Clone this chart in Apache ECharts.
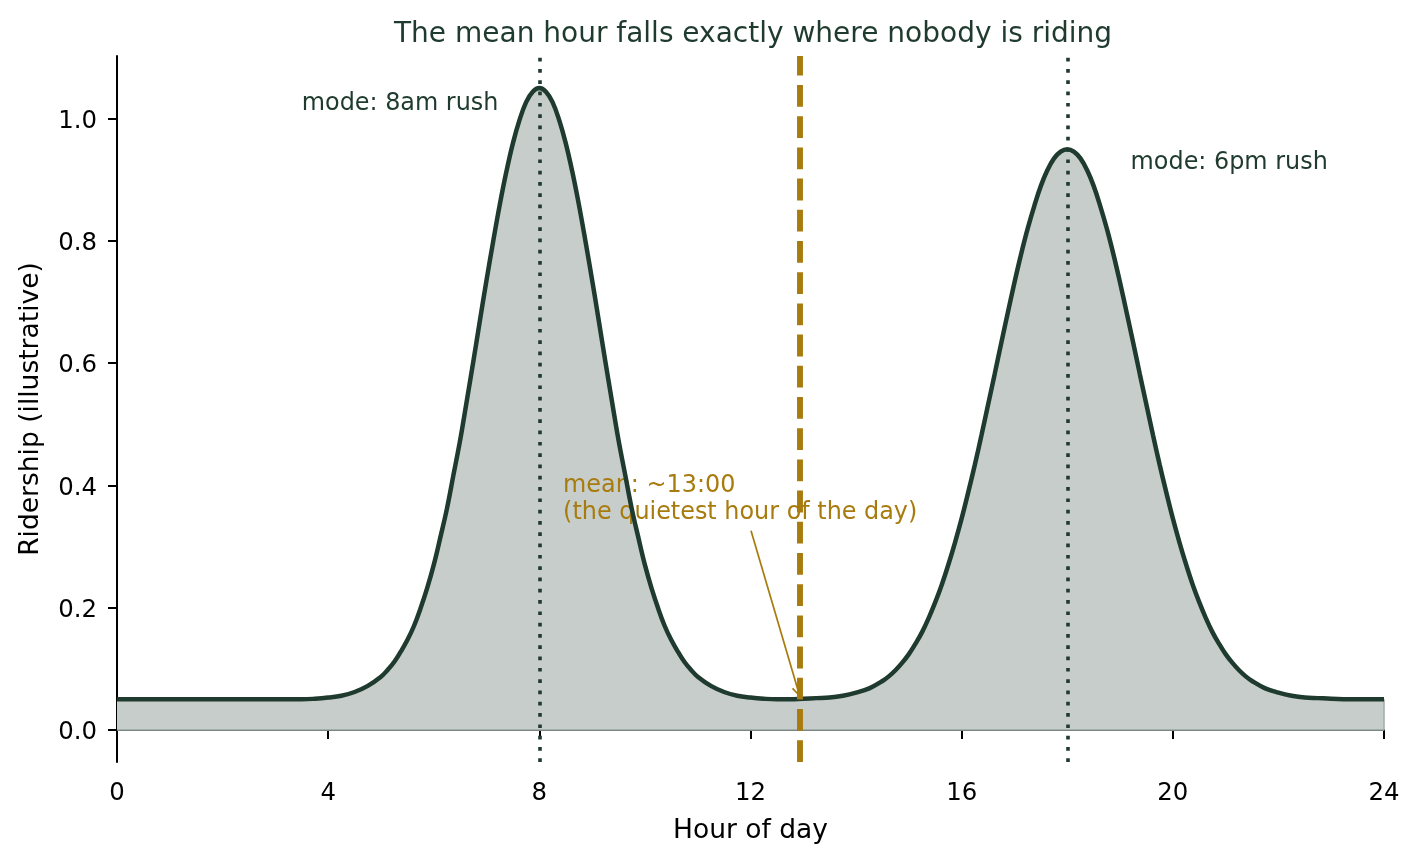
<!DOCTYPE html>
<html>
<head>
<meta charset="utf-8">
<title>Mean hour vs ridership</title>
<script src="https://cdn.jsdelivr.net/npm/echarts@6/dist/echarts.min.js"></script>
<style>
html, body { margin: 0; padding: 0; background: #fff; }
#main { width: 1420px; height: 863px; }
</style>
</head>
<body>
<div id="main"></div>
<script>
// values (hour of day -> ridership), denser around the two peaks
var hours = [0, 1, 2, 3, 3.5, 3.75, 4, 4.25, 4.5, 4.75,
	5, 5.125, 5.25, 5.375, 5.5, 5.625, 5.75, 5.875, 6, 6.125, 6.25, 6.375, 6.5, 6.625, 6.75, 6.875,
	7, 7.125, 7.25, 7.375, 7.5, 7.625, 7.75, 7.875, 8, 8.125, 8.25, 8.375, 8.5, 8.625, 8.75, 8.875,
	9, 9.125, 9.25, 9.375, 9.5, 9.625, 9.75, 9.875, 10, 10.125, 10.25, 10.375, 10.5, 10.625, 10.75, 10.875, 11,
	11.25, 11.5, 11.75, 12, 12.25, 12.5, 12.75, 13, 13.25, 13.5, 13.75, 14, 14.25,
	14.5, 14.625, 14.75, 14.875, 15, 15.125, 15.25, 15.375, 15.5, 15.625, 15.75, 15.875,
	16, 16.125, 16.25, 16.375, 16.5, 16.625, 16.75, 16.875, 17, 17.125, 17.25, 17.375, 17.5, 17.625, 17.75, 17.875,
	18, 18.125, 18.25, 18.375, 18.5, 18.625, 18.75, 18.875, 19, 19.125, 19.25, 19.375, 19.5, 19.625, 19.75, 19.875,
	20, 20.125, 20.25, 20.375, 20.5, 20.625, 20.75, 20.875, 21, 21.125, 21.25, 21.375, 21.5,
	21.75, 22, 22.25, 22.5, 22.75, 23, 23.5, 24];
var ridership = [0.05, 0.05, 0.05, 0.05, 0.050, 0.051, 0.053, 0.056, 0.062, 0.072,
	0.087, 0.098, 0.111, 0.128, 0.147, 0.170, 0.199, 0.232, 0.270, 0.315, 0.362, 0.418, 0.474, 0.538, 0.603, 0.670,
	0.736, 0.799, 0.859, 0.913, 0.960, 0.998, 1.027, 1.044, 1.050, 1.044, 1.027, 0.998, 0.960, 0.913, 0.859, 0.799,
	0.736, 0.670, 0.603, 0.538, 0.474, 0.418, 0.362, 0.315, 0.270, 0.232, 0.199, 0.170, 0.147, 0.128, 0.111, 0.098, 0.087,
	0.072, 0.062, 0.056, 0.053, 0.051, 0.050, 0.050, 0.051, 0.052, 0.053, 0.056, 0.061, 0.068,
	0.080, 0.088, 0.098, 0.110, 0.124, 0.141, 0.160, 0.183, 0.209, 0.238, 0.271, 0.307,
	0.346, 0.389, 0.434, 0.482, 0.532, 0.582, 0.633, 0.683, 0.732, 0.778, 0.820, 0.857, 0.890, 0.916, 0.935, 0.946,
	0.950, 0.946, 0.935, 0.916, 0.890, 0.857, 0.820, 0.778, 0.732, 0.683, 0.633, 0.582, 0.532, 0.482, 0.434, 0.389,
	0.346, 0.307, 0.271, 0.238, 0.209, 0.183, 0.160, 0.141, 0.124, 0.110, 0.098, 0.088, 0.080,
	0.068, 0.061, 0.056, 0.053, 0.052, 0.051, 0.050, 0.050];
var modeHours = [8, 18];
var meanHour = 12.94;
var yTicks = [0, 0.2, 0.4, 0.6, 0.8, 1.0];
var notes = [
	{ text: 'mode: 8am rush', x: 3.5, y: 1.025, kind: 'mode' },
	{ text: 'mode: 6pm rush', x: 19.2, y: 0.927, kind: 'mode' },
	{ text: 'mean: ~13:00\n(the quietest hour of the day)', x: 8.45, y: 0.378, kind: 'mean' }
];
var arrowFrom = [12.01, 0.326];
var arrowTo = [12.91, 0.062];

var dark = '#1f3a2e';
var gold = '#a87b0e';
var font = 'DejaVu Sans';
// open "->" head, drawn as a thin chevron
var openHead = 'path://M0,10 L5,0 L10,10 L8.6,10.6 L5,3 L1.4,10.6 Z';

var curve = [];
for (var i = 0; i < hours.length; i++) {
	curve.push([hours[i], ridership[i]]);
}
var last = hours.length - 1;
// outline of the filled band along y = 0 and its right end
var fillEdge = [[hours[0], 0], [hours[last], 0], [hours[last], ridership[last]]];

var myChart = echarts.init(document.getElementById('main'));

var option = {
	animation: false,
	textStyle: { fontFamily: font },
	title: {
		text: 'The mean hour falls exactly where nobody is riding',
		left: 748,
		top: 16,
		textAlign: 'center',
		textStyle: { color: dark, fontSize: 28, fontWeight: 'normal', fontFamily: font }
	},
	grid: { left: 117, right: 36, top: 56, bottom: 101 },
	xAxis: {
		type: 'value',
		min: 0,
		max: 24,
		interval: 4,
		name: 'Hour of day',
		nameLocation: 'middle',
		nameGap: 56,
		nameTextStyle: { color: '#000', fontSize: 26.5, fontFamily: font },
		axisLine: { lineStyle: { color: '#000', width: 2 } },
		axisTick: { length: 9, lineStyle: { color: '#000', width: 2 } },
		axisLabel: { color: '#000', fontSize: 24.4, margin: 20, fontFamily: font },
		splitLine: { show: false }
	},
	yAxis: {
		type: 'value',
		min: -0.0525,
		max: 1.1025,
		name: 'Ridership (illustrative)',
		nameLocation: 'middle',
		nameGap: 72,
		nameTextStyle: { color: '#000', fontSize: 26.5, fontFamily: font },
		axisLine: { show: true, lineStyle: { color: '#000', width: 2 } },
		axisTick: { show: true, length: 9, customValues: yTicks, lineStyle: { color: '#000', width: 2 } },
		axisLabel: {
			color: '#000', fontSize: 24.4, margin: 20, fontFamily: font,
			verticalAlign: 'top',
			lineHeight: 5.6,
			customValues: yTicks,
			formatter: function(v) { return v.toFixed(1); }
		},
		splitLine: { show: false }
	},
	series: [
		{
			type: 'line',
			name: 'fill',
			data: curve,
			smooth: 0.4,
			showSymbol: false,
			silent: true,
			lineStyle: { width: 0 },
			areaStyle: { color: '#c7cdca', opacity: 1, origin: 0 },
			z: 1
		},
		{
			type: 'line',
			name: 'fillEdge',
			data: fillEdge,
			showSymbol: false,
			silent: true,
			lineStyle: { color: '#a3b0ab', width: 1.6 },
			z: 1
		},
		{
			type: 'scatter',
			name: 'notes',
			symbolSize: 0,
			silent: true,
			itemStyle: { opacity: 1 },
			z: 2,
			data: notes.map(function(n) {
				return {
					value: [n.x, n.y],
					label: {
						show: true,
						position: 'right',
						distance: 0,
						formatter: n.text,
						fontSize: 23.9,
						lineHeight: 27,
						fontFamily: font,
						color: n.kind === 'mean' ? gold : dark
					}
				};
			})
		},
		{
			type: 'line',
			name: 'ridership',
			data: curve,
			smooth: 0.4,
			showSymbol: false,
			lineStyle: { color: dark, width: 4.5 },
			z: 3,
			markLine: {
				silent: true,
				symbol: ['none', 'none'],
				label: { show: false },
				data: [
					{ xAxis: modeHours[0], lineStyle: { color: dark, width: 3.6, type: [3.7, 7.6] } },
					{ xAxis: modeHours[1], lineStyle: { color: dark, width: 3.6, type: [3.7, 7.6] } },
					{ xAxis: meanHour, lineStyle: { color: gold, width: 5.9, type: [21.8, 9.4] } },
					[
						{ coord: arrowFrom, symbol: 'none' },
						{ coord: arrowTo, symbol: openHead, symbolSize: [11, 11], lineStyle: { color: gold, width: 1.7, type: 'solid' } }
					]
				]
			}
		}
	]
};

myChart.setOption(option, true);
</script>
</body>
</html>
